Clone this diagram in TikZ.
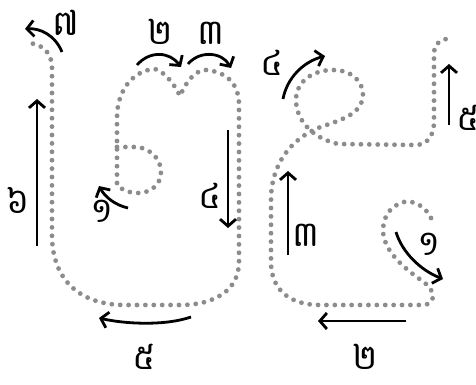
\documentclass[tikz,border=0pt]{standalone}
\usepackage{fontspec}
\newfontfamily\khmerfont[Script=Khmer]{Battambang}
\usetikzlibrary{arrows.meta}
\definecolor{dotgray}{HTML}{8C8C8C}
\begin{document}
\begin{tikzpicture}[x=1pt,y=-1pt,
  dots/.style={draw=dotgray, line width=4.8pt, line cap=round, dash pattern=on 0pt off 8.4pt},
  arr/.style={line width=2.8pt, -{Straight Barb[length=7pt,width=16pt]}},
  lab/.style={font=\khmerfont\fontsize{35}{35}\selectfont, inner sep=0pt, anchor=base, text height=22pt, text depth=0pt}]
\useasboundingbox (0,0) rectangle (476,385);
% ---------- left character (dotted guide) ----------
\draw[dots] (117,183) -- (117,118) .. controls (117,88) and (135,70) .. (155,69)
  .. controls (165,72) and (175,85) .. (180,96)
  .. controls (186,82) and (195,70) .. (206,70)
  .. controls (228,72) and (239,85) .. (239,105)
  -- (239,262) .. controls (239,290) and (215,305) .. (180,305)
  -- (125,305) .. controls (80,305) and (52,280) .. (52,235)
  -- (52,68) .. controls (52,52) and (42,44) .. (28,43);
\draw[dots] (117,147) -- (137,147) .. controls (152,149) and (161,160) .. (161,172)
  .. controls (161,185) and (150,193) .. (138,193) .. controls (128,193) and (121,189) .. (117,185);
% ---------- right character (dotted guide) ----------
\draw[dots] (431,218) .. controls (425,205) and (412,200) .. (404,202)
  .. controls (390,206) and (383,216) .. (383,232)
  .. controls (385,255) and (410,272) .. (425,283)
  .. controls (436,292) and (436,305) .. (422,305)
  -- (320,305) .. controls (290,305) and (271,290) .. (271,262)
  -- (271,200) .. controls (271,165) and (290,140) .. (318,128)
  .. controls (340,120) and (362,115) .. (363,95)
  .. controls (363,80) and (350,70) .. (333,70)
  .. controls (312,70) and (296,82) .. (296,100)
  .. controls (296,120) and (312,138) .. (338,144)
  -- (415,145) .. controls (428,145) and (434,135) .. (434,122)
  -- (434,52) .. controls (434,45) and (440,40) .. (446,39);
% ---------- arrows, left ----------
\coordinate (a7s) at (62,52);  \coordinate (a7e) at (25,29);
\coordinate (a2s) at (137,65); \coordinate (a2e) at (181,67);
\coordinate (a3s) at (188,64); \coordinate (a3e) at (231,68);
\coordinate (a6s) at (37,246); \coordinate (a6e) at (37,99);
\coordinate (a1s) at (128,208); \coordinate (a1e) at (99,186);
\coordinate (a4s) at (228,130); \coordinate (a4e) at (228,228);
\coordinate (a5s) at (191,317); \coordinate (a5e) at (99,318);
\draw[arr] (a7s) .. controls (55,35) and (40,28) .. (a7e);
\draw[arr] (a2s) .. controls (150,50) and (170,52) .. (a2e);
\draw[arr] (a3s) .. controls (200,50) and (222,52) .. (a3e);
\draw[arr] (a6s) -- (a6e);
\draw[arr] (a1s) .. controls (115,205) and (105,197) .. (a1e);
\draw[arr] (a4s) -- (a4e);
\draw[arr] (a5s) .. controls (165,326) and (125,324) .. (a5e);
% ---------- arrows, right ----------
\coordinate (b4s) at (283,99);  \coordinate (b4e) at (325,56);
\coordinate (b5s) at (449,125); \coordinate (b5e) at (449,64);
\coordinate (b3s) at (288,255); \coordinate (b3e) at (288,171);
\coordinate (b1s) at (396,232); \coordinate (b1e) at (443,279);
\coordinate (b2s) at (406,321); \coordinate (b2e) at (318,321);
\draw[arr] (b4s) .. controls (287,78) and (303,62) .. (b4e);
\draw[arr] (b5s) -- (b5e);
\draw[arr] (b3s) -- (b3e);
\draw[arr] (b1s) .. controls (402,252) and (420,270) .. (b1e);
\draw[arr] (b2s) -- (b2e);
% ---------- labels ----------
\node[lab] (l7) at (66,36) {៧};
\node[lab] (l2) at (160,45) {២};
\node[lab] (l3) at (211,45) {៣};
\node[lab] (l6) at (18,213) {៦};
\node[lab] (l1) at (102,222) {១};
\node[lab] (l4) at (210,208) {៤};
\node[lab] (l5) at (144,369) {៥};
\node[lab] (m4) at (272,76) {៤};
\node[lab] (m5) at (468,131) {៥};
\node[lab] (m3) at (306,246) {៣};
\node[lab] (m1) at (429,255) {១};
\node[lab] (m2) at (365,369) {២};
\end{tikzpicture}
\end{document}
